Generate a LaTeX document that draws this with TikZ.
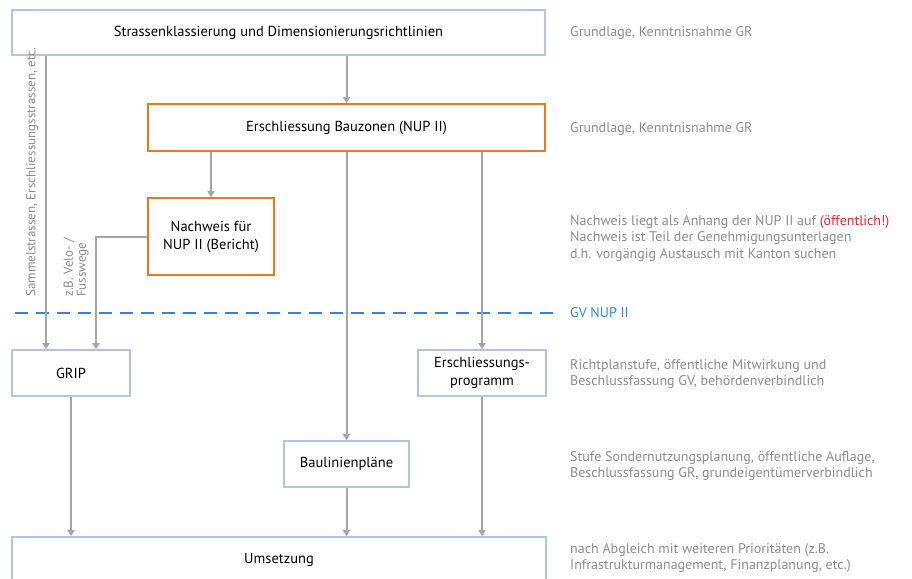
\documentclass[tikz,border=0pt]{standalone}
\usepackage{fontspec}
\setmainfont{PT Sans}
\usetikzlibrary{arrows.meta}
\definecolor{boxblue}{RGB}{178,196,228}
\definecolor{boxorange}{RGB}{233,120,30}
\definecolor{lgray}{RGB}{165,165,165}
\definecolor{tgray}{RGB}{140,140,140}
\definecolor{dblue}{RGB}{70,125,200}
\definecolor{tblue}{RGB}{45,135,205}
\definecolor{tred}{RGB}{232,35,35}
\tikzset{
  bluebox/.style={draw=boxblue, line width=1.6pt, fill=white, align=center, inner sep=0pt, font=\fontsize{14.5}{18}\selectfont},
  orangebox/.style={draw=boxorange, line width=1.8pt, fill=white, align=center, inner sep=0pt, font=\fontsize{14.5}{18}\selectfont},
  arr/.style={draw=lgray, line width=2pt, -{Triangle[width=7pt,length=6pt]}},
  note/.style={anchor=west, align=left, text=tgray, inner sep=0pt, font=\fontsize{14}{16.5}\selectfont},
  side/.style={text=tgray, inner sep=0pt, align=left, rotate=90, anchor=west, font=\fontsize{13}{13}\selectfont}
}
\begin{document}
\begin{tikzpicture}[x=1pt,y=-1pt]
\useasboundingbox[fill=white] (0,0) rectangle (912,578);
% dashed line
\coordinate (dl) at (15,313);
\coordinate (dr) at (556,313);
\draw[dblue, line width=2.5pt, dash pattern=on 13pt off 8pt] (dl) -- (dr);
% boxes
\node[bluebox, minimum width=533pt, minimum height=45pt] (top) at (278.5,32.5) {Strassenklassierung und Dimensionierungsrichtlinien};
\node[orangebox, minimum width=397pt, minimum height=47pt] (ersch) at (346.5,127.5) {Erschliessung Bauzonen (NUP II)};
\node[orangebox, minimum width=126pt, minimum height=77pt] (nach) at (211,236.5) {Nachweis für\\NUP II (Bericht)};
\node[bluebox, minimum width=118pt, minimum height=46pt] (grip) at (71,373) {GRIP};
\node[bluebox, minimum width=128pt, minimum height=46pt] (prog) at (482,373) {Erschliessungs-\\programm};
\node[bluebox, minimum width=125pt, minimum height=46pt] (baul) at (346.5,464) {Baulinienpläne};
\node[bluebox, minimum width=534pt, minimum height=46pt] (ums) at (279,560) {Umsetzung};
% helper columns
\coordinate (xa) at (46,0);
\coordinate (xb) at (96,0);
% connectors
\draw[arr] (ersch.north |- top.south) -- (ersch.north);
\draw[arr] (top.south -| xa) -- (grip.north -| xa);
\draw[arr] (nach.north |- ersch.south) -- (nach.north);
\draw[arr] (baul.north |- ersch.south) -- (baul.north);
\draw[arr] (prog.north |- ersch.south) -- (prog.north);
\draw[arr] (nach.west) -| (grip.north -| xb);
\draw[arr] (grip.south) -- (grip.south |- ums.north);
\draw[arr] (baul.south) -- (baul.south |- ums.north);
\draw[arr] (prog.south) -- (prog.south |- ums.north);
% side texts
\node[side] (s1) at (32,297) {Sammelstrassen, Erschliessungsstrassen, etc.};
\node[side] (s2) at (76,297) {z.B. Velo- /\\Fusswege};
% notes
\node[note] (n1) at (570,33) {Grundlage, Kenntnisnahme GR};
\node[note] (n2) at (570,129) {Grundlage, Kenntnisnahme GR};
\node[note] (n3) at (570,238) {Nachweis liegt als Anhang der NUP II auf \textcolor{tred}{(öffentlich!)}\\Nachweis ist Teil der Genehmigungsunterlagen\\d.h. vorgängig Austausch mit Kanton suchen};
\node[note, text=tblue] (n4) at (570,313) {GV NUP II};
\node[note] (n5) at (570,374) {Richtplanstufe, öffentliche Mitwirkung und\\Beschlussfassung GV, behördenverbindlich};
\node[note] (n6) at (570,466) {Stufe Sondernutzungsplanung, öffentliche Auflage,\\Beschlussfassung GR, grundeigentümerverbindlich};
\node[note] (n7) at (570,558) {nach Abgleich mit weiteren Prioritäten (z.B.\\Infrastrukturmanagement, Finanzplanung, etc.)};
\end{tikzpicture}
\end{document}
